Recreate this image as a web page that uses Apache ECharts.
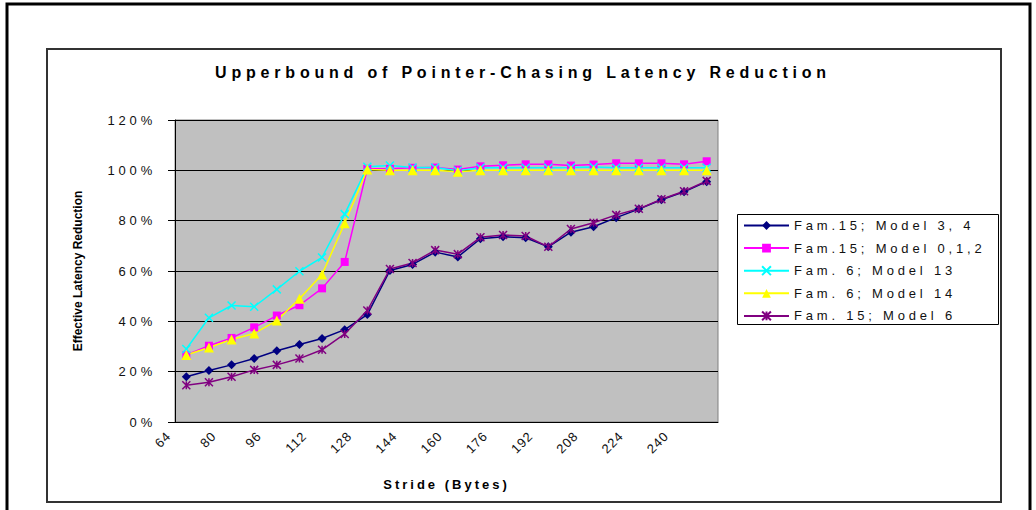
<!DOCTYPE html>
<html>
<head>
<meta charset="utf-8">
<script src="https://cdn.jsdelivr.net/npm/echarts@6/dist/echarts.min.js"></script>
<style>
  html, body { margin: 0; padding: 0; background: #fff; }
  #main { width: 1036px; height: 510px; }
  /* excel style spaced lettering, picked by the fallback font name */
  #main text[style*="Arial"] { letter-spacing: 4.8px; }
  #main text[style*="Helvetica"] { letter-spacing: 3.8px; }
  #main text[style*="Verdana"] { letter-spacing: 3px; }
  #main text[style*="Tahoma"] { letter-spacing: 1px; }
</style>
</head>
<body>
<div id="main"></div>
<script>
// stride in bytes
var strides = ['64', '72', '80', '88', '96', '104', '112', '120', '128', '136', '144', '152',
  '160', '168', '176', '184', '192', '200', '208', '216', '224', '232', '240', '248'];

// effective latency reduction (%)
var fam15Model34 = [18.0, 20.5, 22.7, 25.2, 28.3, 30.8, 33.2, 36.7, 42.7, 60.2, 62.6, 67.5,
  65.6, 72.8, 73.6, 73.2, 69.6, 75.4, 77.6, 81.2, 84.6, 88.3, 91.5, 95.5];
var fam15Model012 = [26.6, 30.3, 33.4, 37.6, 42.3, 46.4, 53.1, 63.6, 100.6, 100.6, 101.0, 101.1,
  100.3, 101.6, 102.0, 102.4, 102.4, 101.9, 102.3, 102.8, 102.8, 102.8, 102.4, 103.6];
var fam6Model13 = [29.0, 41.4, 46.3, 45.8, 52.7, 59.9, 65.4, 82.6, 101.4, 101.9, 101.1, 101.1,
  99.8, 101.0, 101.0, 101.0, 101.0, 101.1, 101.3, 101.0, 101.0, 101.0, 101.0, 101.0];
var fam6Model14 = [26.6, 29.6, 32.8, 35.2, 40.3, 49.0, 58.6, 79.0, 100.3, 100.0, 100.0, 100.0,
  99.4, 100.0, 100.0, 100.0, 100.0, 100.0, 100.0, 100.0, 100.0, 100.0, 100.0, 100.0];
var fam15Model6 = [14.6, 15.8, 18.0, 20.7, 22.7, 25.2, 28.7, 35.0, 44.3, 60.8, 63.2, 68.3,
  66.7, 73.4, 74.3, 73.9, 69.6, 76.7, 79.2, 82.3, 84.7, 88.5, 91.7, 95.8];

var seriesNames = ['Fam.15; Model 3, 4', 'Fam.15; Model 0,1,2', 'Fam. 6; Model 13', 'Fam. 6; Model 14', 'Fam. 15; Model 6'];
var yTicks = [0, 20, 40, 60, 80, 100, 120];

var xMark = 'path://M0 0L10 10M10 0L0 10';
var starMark = 'path://M0 0L10 10M10 0L0 10M5 0L5 10';

var chart = echarts.init(document.getElementById('main'), null, { renderer: 'svg' });

function lineSeries(name, data, color, symbol, size, stroked) {
  return {
    name: name,
    type: 'line',
    data: data,
    symbol: symbol,
    symbolSize: size,
    lineStyle: { color: color, width: 1.5 },
    itemStyle: stroked
      ? { color: color, borderColor: color, borderWidth: 1.5 }
      : { color: color, borderWidth: 0 },
    emphasis: { disabled: true }
  };
}

var option = {
  animation: false,
  backgroundColor: '#ffffff',
  title: {
    text: 'Upperbound of Pointer-Chasing Latency Reduction',
    left: 523,
    top: 64,
    textAlign: 'center',
    padding: 0,
    textStyle: {
      fontFamily: "'Liberation Sans', Arial",
      fontSize: 16,
      fontWeight: 'bold',
      color: '#000'
    }
  },
  graphic: [
    { type: 'rect', silent: true, z: -10, shape: { x: 7, y: 4, width: 1023, height: 530 },
      style: { fill: 'none', stroke: '#000', lineWidth: 3 } },
    { type: 'rect', silent: true, z: -10, shape: { x: 47, y: 49, width: 954, height: 453 },
      style: { fill: 'none', stroke: '#333', lineWidth: 2 } },
    { type: 'rect', silent: true, z: -10, shape: { x: 737.5, y: 214.5, width: 261, height: 110 },
      style: { fill: '#fff', stroke: '#000', lineWidth: 1 } }
  ],
  legend: {
    orient: 'vertical',
    left: 743,
    top: 218,
    padding: 0,
    itemWidth: 45,
    itemHeight: 11,
    itemGap: 7.6,
    selectedMode: false,
    data: seriesNames,
    textStyle: {
      fontFamily: "'Liberation Sans', Helvetica",
      fontSize: 13,
      lineHeight: 15,
      color: '#111'
    }
  },
  grid: {
    left: 175,
    right: 318,
    top: 120,
    bottom: 88,
    show: true,
    backgroundColor: '#c0c0c0',
    borderColor: '#808080',
    borderWidth: 1
  },
  xAxis: {
    type: 'category',
    data: strides,
    boundaryGap: true,
    name: 'Stride (Bytes)',
    nameLocation: 'middle',
    nameGap: 56,
    nameTextStyle: {
      fontFamily: "'Liberation Sans', Verdana",
      fontSize: 13,
      fontWeight: 'bold',
      color: '#000'
    },
    axisLine: { lineStyle: { color: '#000', width: 1 } },
    axisTick: { interval: 0, length: 5, lineStyle: { color: '#000' } },
    axisLabel: {
      interval: 1,
      rotate: 45,
      margin: -6,
      padding: [0, 25, 0, 0],
      fontFamily: "'Liberation Sans', Tahoma",
      fontSize: 13,
      color: '#111'
    },
    splitLine: { show: false }
  },
  yAxis: {
    type: 'value',
    min: 0,
    max: 120,
    interval: 20,
    name: 'Effective Latency Reduction',
    nameLocation: 'middle',
    nameGap: 91,
    nameTextStyle: {
      fontFamily: "'Liberation Sans', sans-serif",
      fontSize: 12,
      fontWeight: 'bold',
      color: '#000'
    },
    axisLine: { show: true, lineStyle: { color: '#000', width: 1 } },
    axisTick: { show: true, length: 7, lineStyle: { color: '#000' } },
    axisLabel: {
      margin: 19,
      fontFamily: "'Liberation Sans', Helvetica",
      fontSize: 13,
      color: '#111',
      formatter: function (v) { return yTicks.indexOf(v) >= 0 ? v + '%' : ''; }
    },
    splitLine: { show: true, lineStyle: { color: '#000', width: 1 } }
  },
  series: [
    lineSeries(seriesNames[0], fam15Model34, '#000080', 'diamond', 9, false),
    lineSeries(seriesNames[1], fam15Model012, '#ff00ff', 'rect', 8, false),
    lineSeries(seriesNames[2], fam6Model13, '#00ffff', xMark, 8, true),
    lineSeries(seriesNames[3], fam6Model14, '#ffff00', 'triangle', 10, false),
    lineSeries(seriesNames[4], fam15Model6, '#800080', starMark, 8, true)
  ]
};

chart.setOption(option);
</script>
</body>
</html>
